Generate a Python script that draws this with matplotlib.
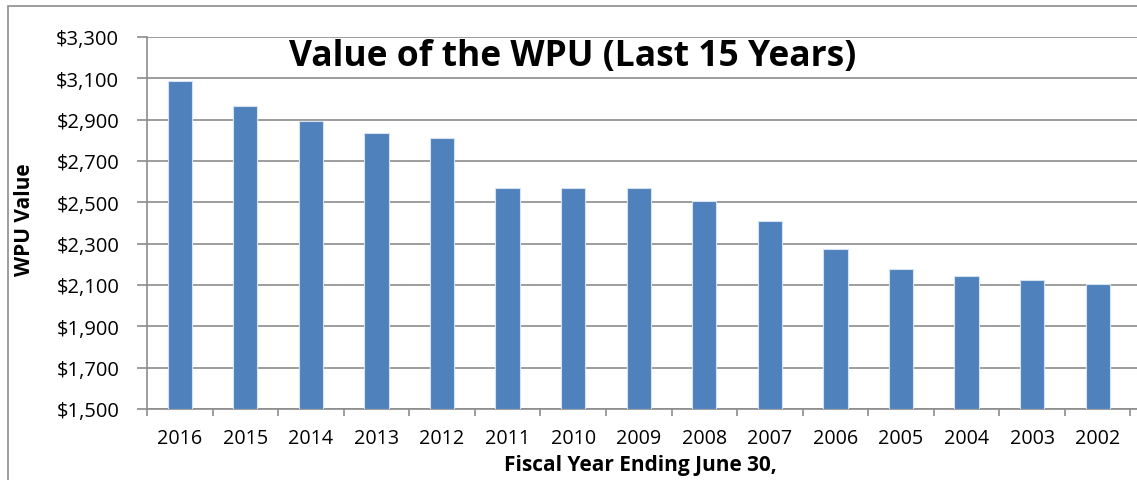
import numpy as np
import matplotlib.pyplot as plt
from matplotlib.patches import Rectangle
from matplotlib.ticker import FuncFormatter, FixedLocator

years = ["2016", "2015", "2014", "2013", "2012", "2011", "2010", "2009",
         "2008", "2007", "2006", "2005", "2004", "2003", "2002"]
wpu_values = [3089, 2968, 2893, 2837, 2809, 2569, 2569, 2569,
              2506, 2410, 2276, 2176, 2144, 2124, 2105]
y_ticks = [1500, 1700, 1900, 2100, 2300, 2500, 2700, 2900, 3100, 3300]

plt.rcParams['font.family'] = ['Open Sans', 'DejaVu Sans']

fig = plt.figure(figsize=(11.37, 4.81), dpi=100)
ax = fig.add_axes([147 / 1137, 71 / 481, 990 / 1137, 372 / 481])

# outer frame around the chart area
fig.patches.append(Rectangle((8 / 1137, -0.1), 1.2, 0.1 + 474 / 481,
                             transform=fig.transFigure, fill=False,
                             edgecolor="#8c8c8c", linewidth=1.2))

x = np.arange(len(years))
ax.bar(x, np.array(wpu_values) - 1500, bottom=1500, width=0.37,
       color="#4f81bd", edgecolor="#d6e2f0", linewidth=0.8, zorder=3)

ax.set_ylim(1500, 3300)
ax.set_xlim(-0.5, 14.6)
ax.set_yticks(y_ticks)
ax.yaxis.set_major_formatter(FuncFormatter(lambda v, p: "${:,.0f}".format(v)))
ax.grid(axis="y", color="#8c8c8c", linewidth=1.2, zorder=0)

ax.set_xticks(x)
ax.set_xticklabels(years)
ax.xaxis.set_minor_locator(FixedLocator(np.arange(-0.5, 15, 1)))
ax.tick_params(axis="x", which="major", length=0, pad=14, labelsize=14.2)
ax.tick_params(axis="x", which="minor", length=5, color="#8c8c8c", width=1.2)
ax.tick_params(axis="y", length=7, color="#8c8c8c", width=1.2, labelsize=14.5, pad=13)

for side in ["top", "right"]:
    ax.spines[side].set_visible(False)
for side in ["left", "bottom"]:
    ax.spines[side].set_color("#8c8c8c")
    ax.spines[side].set_linewidth(1.2)

fig.text(25 / 1137, 1 - 220 / 481, "WPU Value", rotation=90,
         ha="center", va="center", fontsize=15, fontweight="bold")
fig.text(640 / 1137, 1 - 466 / 481, "Fiscal Year Ending June 30,",
         ha="center", va="center", fontsize=15, fontweight="bold")
fig.text(573 / 1137, 1 - 57 / 481, "Value of the WPU (Last 15 Years)",
         ha="center", va="center", fontsize=25.5, fontweight="bold")

fig.savefig("out.png", dpi=100, facecolor="white")
